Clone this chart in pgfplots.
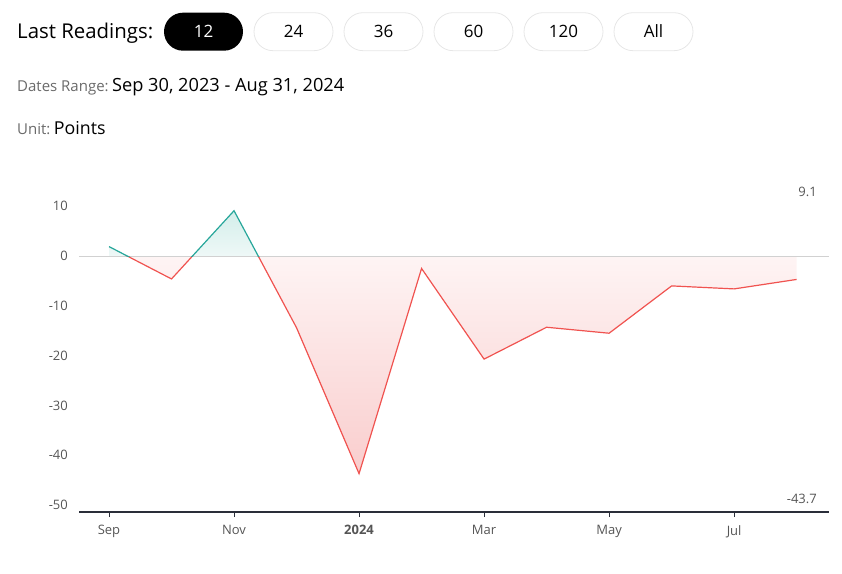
\documentclass[border=0pt]{standalone}
\usepackage{pgfplots}
\pgfplotsset{compat=1.18}
\usepackage{pgfplotstable}
\usepackage{fontspec}
\setmainfont{Open Sans}
\definecolor{upc}{HTML}{26A69A}
\definecolor{dnc}{HTML}{F05350}
\definecolor{redDeep}{HTML}{F9CDCD}
\definecolor{redLight}{HTML}{FEF4F4}
\definecolor{greenLight}{HTML}{EEF8F7}
\definecolor{greenDeep}{HTML}{D3EEEA}
\definecolor{tickgray}{HTML}{555555}
\definecolor{labgray}{HTML}{6A6A6A}
\definecolor{axisdark}{HTML}{2A2E39}
\definecolor{btnborder}{HTML}{E6E6E6}
\pgfdeclareverticalshading{areafill}{100bp}{color(0bp)=(redDeep); color(25bp)=(redDeep); color(66.3bp)=(redLight); color(66.5bp)=(greenLight); color(75bp)=(greenDeep); color(100bp)=(greenDeep)}

\pgfplotstableread{
x y
0 1.9
1 -4.6
2 9.1
3 -14.4
4 -43.7
5 -2.5
6 -20.7
7 -14.3
8 -15.5
9 -6.0
10 -6.6
11 -4.7
}\datatable

\begin{document}
\begin{tikzpicture}[x=1pt,y=1pt]
\useasboundingbox (0,0) rectangle (842,573);
% header
\node[anchor=base west, inner sep=0pt, font=\fontsize{20.4}{24}\selectfont] at (17,534) {Last Readings:};
\foreach \lab [count=\i from 0] in {12,24,36,60,120,All}{
  \pgfmathsetmacro{\xl}{164+90*\i}
  \ifnum\i=0
    \fill[black, rounded corners=19pt] (\xl,522.3) rectangle ++(79,38);
    \node[anchor=base, inner sep=0pt, text=white, font=\fontsize{17}{20}\selectfont] at (\xl+39.5,535.7) {\lab};
  \else
    \draw[btnborder, line width=0.8pt, rounded corners=19pt] (\xl,522.3) rectangle ++(79,38);
    \node[anchor=base, inner sep=0pt, text=black, font=\fontsize{17}{20}\selectfont] at (\xl+39.5,535.7) {\lab};
  \fi
}
\node[anchor=base west, inner sep=0pt] at (17,481) {{\fontsize{15}{18}\selectfont\color{labgray}Dates Range:} {\fontsize{18.2}{21}\selectfont Sep 30, 2023 - Aug 31, 2024}};
\node[anchor=base west, inner sep=0pt] at (17,438) {{\fontsize{15}{18}\selectfont\color{labgray}Unit:} {\fontsize{17.8}{21}\selectfont Points}};
% min / max annotations
\node[anchor=base east, inner sep=0pt, text=tickgray, font=\fontsize{13}{15}\selectfont] at (817,376.3) {9.1};
\node[anchor=base east, inner sep=0pt, text=tickgray, font=\fontsize{13}{15}\selectfont] at (817,70) {-43.7};

\begin{axis}[
  at={(79pt,61pt)}, anchor=south west,
  scale only axis, width=749.5pt, height=320.7pt,
  xmin=-0.48, xmax=11.51, ymin=-51.4, ymax=13,
  axis x line=bottom, axis y line=left,
  x axis line style={-, color=axisdark, line width=1.2pt},
  y axis line style={draw=none},
  xtick={0,2,4,6,8,10},
  xticklabels={Sep,Nov,\textbf{2024},Mar,May,Jul},
  ytick={-50,-40,-30,-20,-10,0,10},
  yticklabels={-50,-40,-30,-20,-10,0,10},
  ytick style={draw=none},
  xtick style={color=axisdark, line width=1pt},
  major tick length=5pt, tick align=outside,
  xticklabel style={font=\fontsize{13}{15}\selectfont, text=tickgray, inner sep=0pt, anchor=north, yshift=-8pt},
  yticklabel style={font=\fontsize{13}{15}\selectfont, text=tickgray, inner sep=0pt, anchor=east, xshift=-6pt},
  clip=false,
]
\addplot[draw=none, shading=areafill, forget plot] table[x=x,y=y]{\datatable} \closedcycle;
\addplot[color=black!18, line width=0.8pt, forget plot] coordinates {(-0.48,0) (11.51,0)};
\begin{scope}
\clip (axis cs:-1,0) rectangle (axis cs:12,-60);
\addplot[dnc, line width=1.2pt, forget plot] table[x=x,y=y]{\datatable};
\end{scope}
\begin{scope}
\clip (axis cs:-1,0) rectangle (axis cs:12,20);
\addplot[upc, line width=1.2pt, forget plot] table[x=x,y=y]{\datatable};
\end{scope}
\end{axis}
\end{tikzpicture}
\end{document}
